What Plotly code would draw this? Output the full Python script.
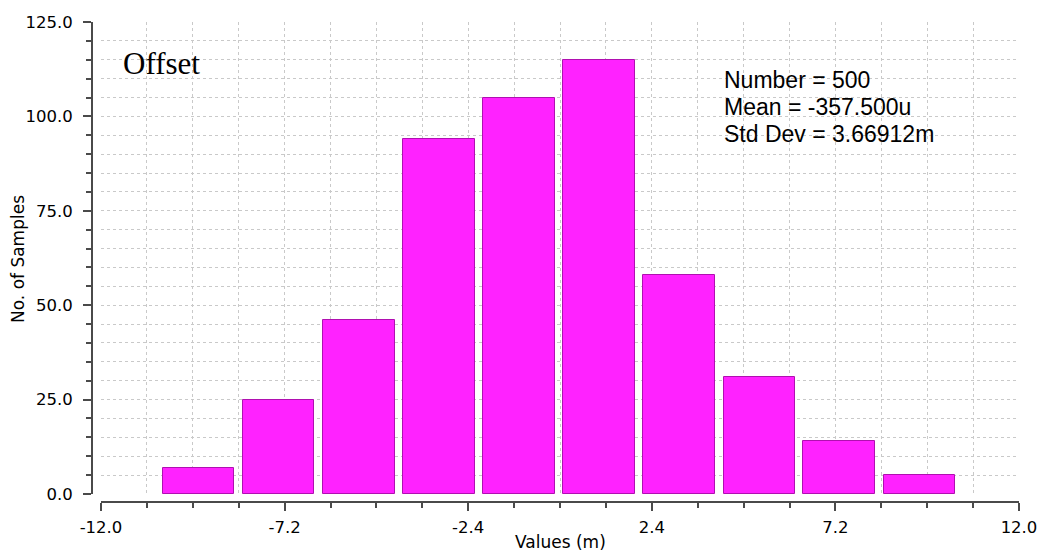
import plotly.graph_objects as go

# Histogram of the offset values (x in mV), 10 bins
bin_centers = [-9.45, -7.36, -5.26, -3.17, -1.07, 1.02, 3.11, 5.21, 7.30, 9.40]
counts = [7, 25, 46, 94, 105, 115, 58, 31, 14, 5]

x_tick_vals = [-12.0, -7.2, -2.4, 2.4, 7.2, 12.0]
x_tick_text = ["-12.0", "-7.2", "-2.4", "2.4", "7.2", "12.0"]
y_tick_vals = [0, 25, 50, 75, 100, 125]
y_tick_text = ["0.0", "25.0", "50.0", "75.0", "100.0", "125.0"]

stats_lines = ["Number = 500", "Mean = -357.500u", "Std Dev = 3.66912m"]
chart_label = "Offset"

W, H = 1043, 554
AX = "#4a4a4a"
GRID = "#c9c9c9"
TICK_FONT = dict(family="DejaVu Sans", size=16.5, color="#000")

fig = go.Figure()
fig.add_trace(go.Bar(
    x=bin_centers,
    y=counts,
    width=1.87,
    marker=dict(color="#ff22ff", line=dict(color="#b010b0", width=1)),
    showlegend=False,
    hoverinfo="x+y",
))

fig.update_layout(
    width=W,
    height=H,
    margin=dict(l=0, r=0, t=0, b=0, autoexpand=False),
    paper_bgcolor="white",
    plot_bgcolor="white",
    bargap=0,
    xaxis=dict(
        domain=[101 / W, 1019 / W],
        anchor="free",
        position=52 / H,
        range=[-12, 12],
        tickmode="array",
        tickvals=x_tick_vals,
        ticktext=x_tick_text,
        ticks="outside",
        ticklen=8,
        tickwidth=1.5,
        tickcolor=AX,
        showline=True,
        linecolor=AX,
        linewidth=2,
        zeroline=False,
        showgrid=True,
        gridcolor=GRID,
        griddash="3px,3px",
        gridwidth=1,
        tickfont=TICK_FONT,
        ticklabelstandoff=2,
        automargin=False,
        minor=dict(
            tick0=-12, dtick=1.2, ticks="outside", ticklen=5, tickwidth=1.5,
            tickcolor=AX, showgrid=True, gridcolor=GRID, griddash="3px,3px",
            gridwidth=1,
        ),
    ),
    yaxis=dict(
        domain=[60 / H, 532 / H],
        anchor="free",
        position=92 / W,
        range=[0, 125],
        tickmode="array",
        tickvals=y_tick_vals,
        ticktext=y_tick_text,
        ticks="outside",
        ticklen=8,
        tickwidth=1.5,
        tickcolor=AX,
        showline=True,
        linecolor=AX,
        linewidth=2,
        zeroline=False,
        showgrid=True,
        gridcolor=GRID,
        griddash="3px,3px",
        gridwidth=1,
        tickfont=TICK_FONT,
        ticklabelstandoff=7,
        automargin=False,
        minor=dict(
            tick0=0, dtick=5, ticks="outside", ticklen=5, tickwidth=1.5,
            tickcolor=AX, showgrid=True, gridcolor=GRID, griddash="3px,3px",
            gridwidth=1,
        ),
    ),
)

TITLE_FONT = dict(family="DejaVu Sans", size=17, color="#000")
annotations = [
    dict(text="Values (m)", x=560 / W, y=(H - 542) / H, xanchor="center",
         yanchor="middle", font=TITLE_FONT),
    dict(text="No. of Samples", x=18 / W, y=(H - 259) / H, xanchor="center",
         yanchor="middle", textangle=-90, font=TITLE_FONT),
    dict(text=chart_label, x=121 / W, y=(H - 63.5) / H, xanchor="left",
         yanchor="middle",
         font=dict(family="Liberation Serif", size=31, color="#000")),
]
for i, line in enumerate(stats_lines):
    annotations.append(dict(
        text=line, x=722 / W, y=(H - (80 + 26.8 * i)) / H, xanchor="left",
        yanchor="middle",
        font=dict(family="Liberation Sans", size=23, color="#000"),
    ))
for a in annotations:
    a.update(xref="paper", yref="paper", showarrow=False)
fig.update_layout(annotations=annotations)

fig.write_html("out.html")
